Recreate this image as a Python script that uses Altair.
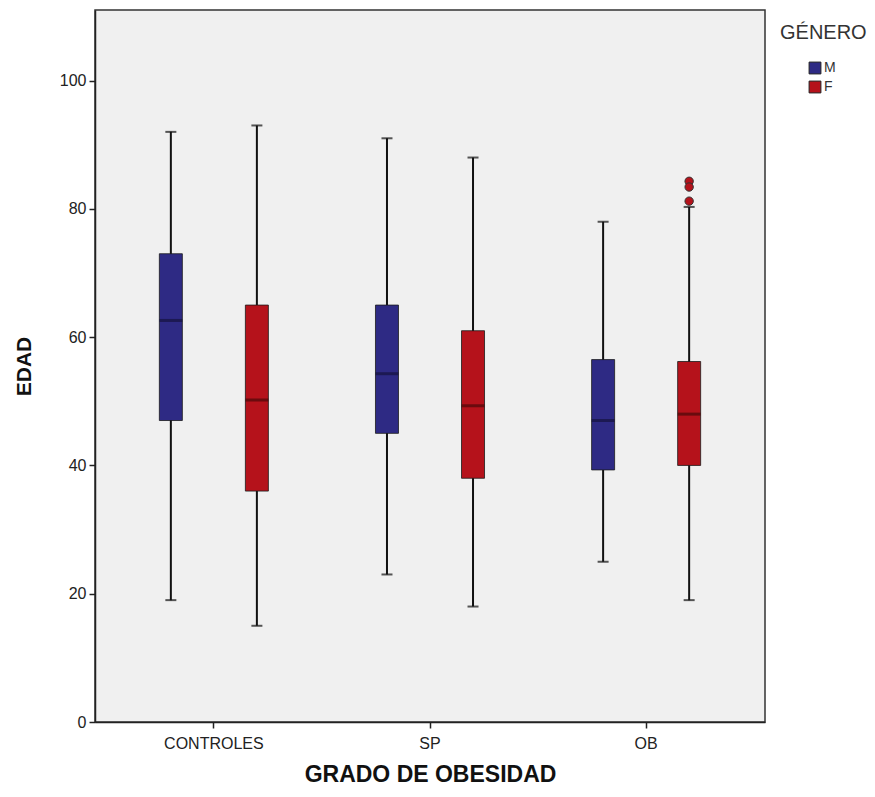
import altair as alt
import pandas as pd

groups = ["CONTROLES", "SP", "OB"]
genders = ["M", "F"]

# one entry per (group, gender) in order: CONTROLES-M, CONTROLES-F, SP-M, SP-F, OB-M, OB-F
box_group = ["CONTROLES", "CONTROLES", "SP", "SP", "OB", "OB"]
box_gender = ["M", "F", "M", "F", "M", "F"]
whisker_low = [19, 15, 23, 18, 25, 19]
q1 = [47, 36, 45, 38, 39.3, 40]
median = [62.6, 50.2, 54.3, 49.3, 47, 48]
q3 = [73, 65, 65, 61, 56.5, 56.2]
whisker_high = [92, 93, 91, 88, 78, 80.3]

outlier_group = ["OB", "OB", "OB"]
outlier_gender = ["F", "F", "F"]
outlier_value = [84.3, 83.4, 81.2]

box_colors = ["#2E2A84", "#B5121B"]
median_colors = {"M": "#15123F", "F": "#4A0808"}

df = pd.DataFrame({
    "grupo": box_group,
    "genero": box_gender,
    "low": whisker_low,
    "q1": q1,
    "med": median,
    "q3": q3,
    "high": whisker_high,
})
df["medcol"] = df["genero"].map(median_colors)

out = pd.DataFrame({"grupo": outlier_group, "genero": outlier_gender, "edad": outlier_value})

FONT = "Liberation Sans"

x_enc = alt.X("grupo:N", sort=groups,
              scale=alt.Scale(paddingInner=0, paddingOuter=0.05),
              axis=alt.Axis(title="GRADO DE OBESIDAD", labelAngle=0))
xo_enc = alt.XOffset("genero:N", sort=genders,
                     scale=alt.Scale(paddingInner=0, paddingOuter=0.256))
y_scale = alt.Scale(domain=[0, 111], nice=False)
y_axis = alt.Axis(title="EDAD", values=[0, 20, 40, 60, 80, 100], grid=False)

base = alt.Chart(df)

whisker = base.mark_rule(color="#111111", strokeWidth=2).encode(
    x=x_enc, xOffset=xo_enc,
    y=alt.Y("low:Q", scale=y_scale, axis=y_axis),
    y2="high:Q",
)
cap_low = base.mark_tick(color="#111111", thickness=2, size=11).encode(
    x=x_enc, xOffset=xo_enc, y=alt.Y("low:Q", scale=y_scale, axis=y_axis),
)
cap_high = base.mark_tick(color="#111111", thickness=2, size=11).encode(
    x=x_enc, xOffset=xo_enc, y=alt.Y("high:Q", scale=y_scale, axis=y_axis),
)
box = base.mark_bar(size=23, stroke="#1a1a1a", strokeWidth=0.8).encode(
    x=x_enc, xOffset=xo_enc,
    y=alt.Y("q1:Q", scale=y_scale, axis=y_axis),
    y2="q3:Q",
    color=alt.Color("genero:N", sort=genders,
                    scale=alt.Scale(domain=genders, range=box_colors),
                    legend=alt.Legend(title="GÉNERO", symbolType="square",
                                      symbolSize=140, symbolStrokeColor="#222222",
                                      symbolStrokeWidth=1, symbolOffset=28,
                                      titleFont=FONT, titleFontSize=20,
                                      titleFontWeight="normal", titleColor="#333333",
                                      labelFont=FONT, labelFontSize=14, labelColor="#333333",
                                      labelOffset=2,
                                      titlePadding=18, rowPadding=3,
                                      orient="none", legendX=685, legendY=13)),
)
med = base.mark_tick(thickness=3, size=23).encode(
    x=x_enc, xOffset=xo_enc,
    y=alt.Y("med:Q", scale=y_scale, axis=y_axis),
    color=alt.Color("medcol:N", scale=None, legend=None),
)
pts = alt.Chart(out).mark_point(filled=True, size=70, fill="#B5121B",
                                stroke="#333333", strokeWidth=1, opacity=1).encode(
    x=x_enc, xOffset=xo_enc,
    y=alt.Y("edad:Q", scale=y_scale, axis=y_axis),
)

chart = alt.layer(whisker, cap_low, cap_high, box, med, pts).properties(
    width=670, height=712,
    padding={"left": 5, "top": 2, "right": 0, "bottom": 0},
    background="white",
).configure_view(
    fill="#F0F0F0", stroke="#333333", strokeWidth=1.5,
).configure_axis(
    labelFont=FONT, titleFont=FONT, labelFontSize=16, labelColor="#222222",
    titleColor="#111111", tickColor="#222222", domainColor="#222222",
    domainWidth=1.5, tickSize=6, tickWidth=1.5,
).configure_axisX(
    titleFontSize=23, titleFontWeight="bold", titlePadding=12, labelPadding=7,
).configure_axisY(
    titleFontSize=21, titleFontWeight="bold", titlePadding=25, labelPadding=3,
)

chart.save("out.html", embed_options={"renderer": "svg", "actions": False})
